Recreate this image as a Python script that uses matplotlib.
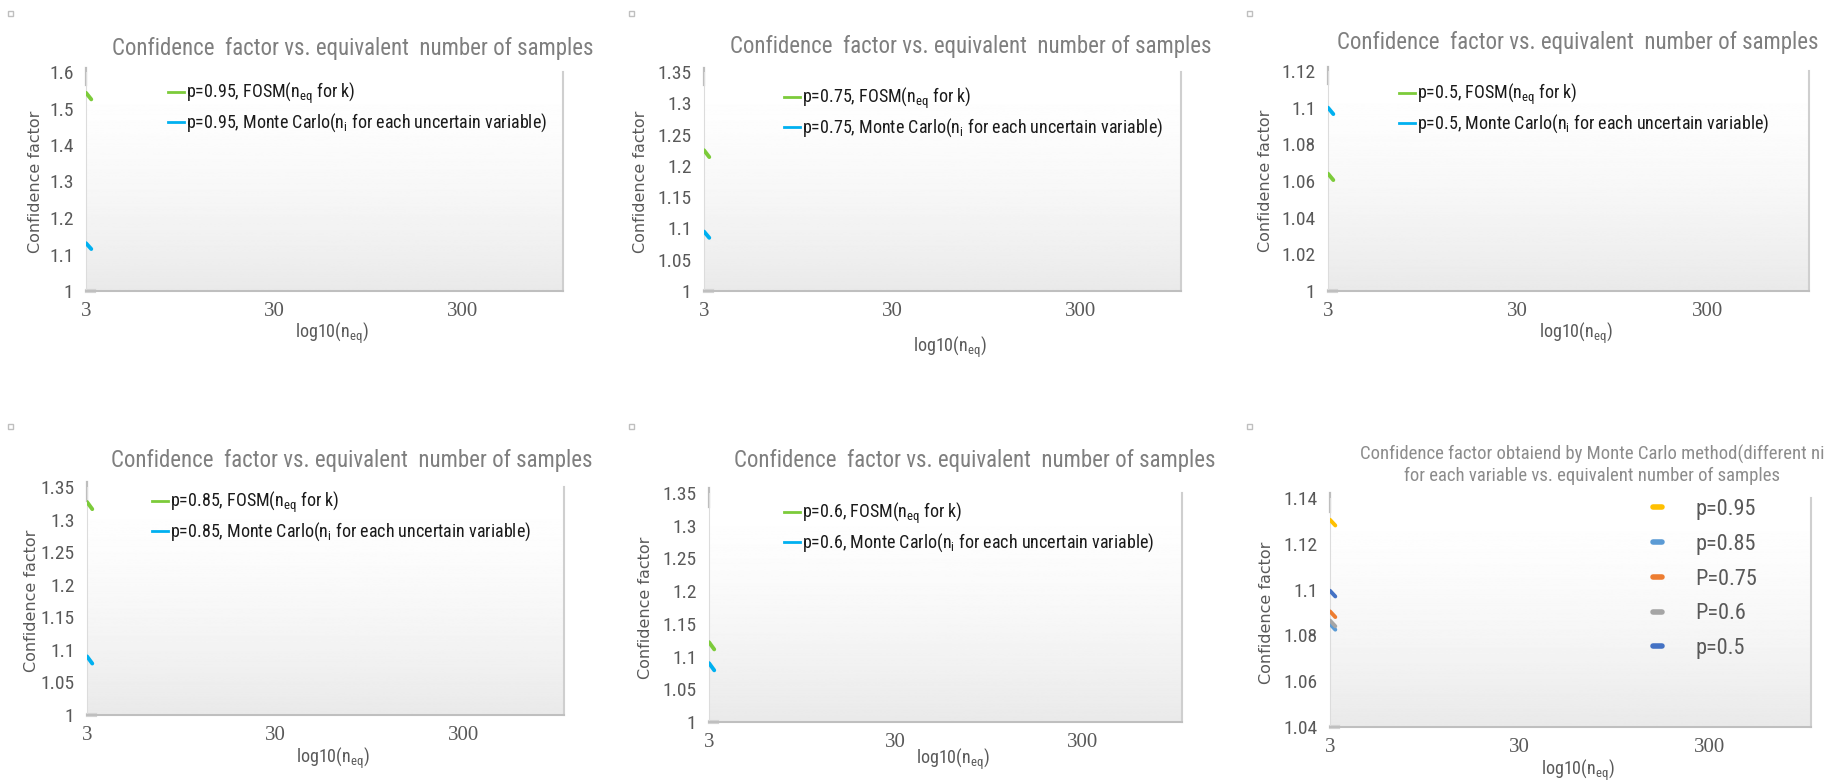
import numpy as np
import matplotlib
matplotlib.use('Agg')
import matplotlib.pyplot as plt
from matplotlib import font_manager
from matplotlib.lines import Line2D
from matplotlib.patches import Rectangle

# equivalent number of samples
n_eq = [3, 3.2]

# p=0.95
fosm_95 = [1.543, 1.525]
mc_95 = [1.131, 1.115]
# p=0.75
fosm_75 = [1.225, 1.214]
mc_75 = [1.095, 1.085]
# p=0.5
fosm_50 = [1.064, 1.0605]
mc_50 = [1.1, 1.0965]
# p=0.85
fosm_85 = [1.327, 1.316]
mc_85 = [1.09, 1.079]
# p=0.6
fosm_60 = [1.122, 1.111]
mc_60 = [1.09, 1.079]

# Monte Carlo summary (different ni for each variable)
mc_labels = ['p=0.95', 'p=0.85', 'P=0.75', 'P=0.6', 'p=0.5']
mc_all = [
    [1.1305, 1.128],
    [1.085, 1.0825],
    [1.0905, 1.088],
    [1.0865, 1.084],
    [1.0995, 1.097],
]
mc_colors = ['#FFC000', '#5B9BD5', '#ED7D31', '#A5A5A5', '#4472C4']

x_ticks = [3, 30, 300]
x_max = 1030

GREEN = '#7CCB3A'
BLUE = '#00B0F0'
W, H = 1831, 780

names = {f.name for f in font_manager.fontManager.ttflist}
NARROW = next((n for n in ['Liberation Sans Narrow', 'DejaVu Sans Condensed',
                           'Roboto Condensed', 'Liberation Sans'] if n in names), 'DejaVu Sans')
SERIF = 'Liberation Serif' if 'Liberation Serif' in names else 'DejaVu Serif'

fig = plt.figure(figsize=(W / 100, H / 100), dpi=100)
fig.patch.set_facecolor('white')


def fx(x):
    return x / W


def fy(y):
    return 1 - y / H


def make_axes(box, ylim, ystep, xlab_off, ylab_off):
    l, t, r, b = box
    ax = fig.add_axes([fx(l), fy(b), (r - l) / W, (b - t) / H])
    ax.set_xscale('log')
    # plot-area gradient, white at the top fading to light grey
    t_ = np.linspace(0, 1, 256)
    grad = (1 - 0.085 * (1 - t_) ** 1.6).reshape(-1, 1)
    ax.imshow(grad, extent=[0, 1, 0, 1], transform=ax.transAxes, origin='lower',
              cmap='gray', vmin=0, vmax=1, aspect='auto', zorder=0)
    ax.set_xlim(3, x_max)
    ax.set_ylim(*ylim)
    ax.set_xticks(x_ticks)
    ax.set_xticklabels([str(v) for v in x_ticks], fontfamily=SERIF, fontsize=15, color='#595959')
    ax.xaxis.set_minor_locator(matplotlib.ticker.NullLocator())
    yt = np.round(np.arange(ylim[0], ylim[1] + ystep / 2, ystep), 4)
    ax.set_yticks(yt)
    ax.set_yticklabels(['%g' % v for v in yt], fontfamily=NARROW, fontsize=14, color='#595959')
    ax.tick_params(length=0, axis='x', pad=8)
    ax.tick_params(length=0, axis='y', pad=9)
    ax.spines['top'].set_visible(False)
    ax.spines['left'].set_color('#dcdcdc')
    ax.spines['bottom'].set_color('#bfbfbf')
    ax.spines['bottom'].set_linewidth(1.5)
    ax.spines['right'].set_color('#cfcfcf')
    ax.spines['right'].set_linewidth(1.5)
    # short grey stubs at the axis corners
    ax.plot([0, 0], [0.94, 1.02], transform=ax.transAxes, color='#bdbdbd', lw=1.6, clip_on=False)
    ax.plot([0.002, 0.016], [0.0, 0.0], transform=ax.transAxes, color='#d4d4d4', lw=3, clip_on=False)
    ax.set_ylabel('Confidence factor', fontfamily='DejaVu Sans', fontsize=11.5, color='#595959')
    ax.yaxis.label.set_va('center')
    ax.yaxis.set_label_coords(-ylab_off / (r - l), 0.5)
    ax.set_xlabel('log10(n$_\\mathregular{eq}$)', fontfamily=NARROW, fontsize=13, color='#595959')
    ax.xaxis.label.set_va('center')
    ax.xaxis.set_label_coords(0.516, -xlab_off / (b - t))
    return ax


def pair_panel(box, ylim, ystep, xlab_off, ylab_off, p, fosm, mc, title_xy, leg_xy):
    ax = make_axes(box, ylim, ystep, xlab_off, ylab_off)
    ax.plot(n_eq, fosm, color=GREEN, lw=2.8, solid_capstyle='round', zorder=3)
    ax.plot(n_eq, mc, color=BLUE, lw=2.8, solid_capstyle='round', zorder=3)
    handles = [Line2D([], [], color=GREEN, lw=2), Line2D([], [], color=BLUE, lw=2)]
    labels = ['p=%s, FOSM(n$_\\mathregular{eq}$ for k)' % p,
              'p=%s, Monte Carlo(n$_\\mathregular{i}$ for each uncertain variable)' % p]
    ax.legend(handles, labels, loc='upper left', bbox_to_anchor=leg_xy, frameon=False,
              handlelength=0.9, handletextpad=0.1, borderpad=0, borderaxespad=0,
              labelspacing=0.3, prop={'family': NARROW, 'size': 13}, labelcolor='#1a1a1a')
    fig.text(fx(title_xy[0]), fy(title_xy[1]), 'Confidence  factor vs. equivalent  number of samples',
             ha='center', va='center', fontfamily=NARROW, fontsize=16.5, color='#7f7f7f')
    return ax


pair_panel((86, 72, 563, 291), (1, 1.6), 0.1, 42, 51, '0.95', fosm_95, mc_95, (353, 48), (0.172, 0.959))
pair_panel((704, 72, 1181, 291), (1, 1.35), 0.05, 56, 63, '0.75', fosm_75, mc_75, (971, 46), (0.168, 0.936))
pair_panel((1328, 71, 1809, 291), (1, 1.12), 0.02, 42, 62, '0.5', fosm_50, mc_50, (1578, 43), (0.148, 0.95))
pair_panel((87, 487, 564, 715), (1, 1.35), 0.05, 43, 55, '0.85', fosm_85, mc_85, (352, 461), (0.136, 0.987))
pair_panel((709, 493, 1182, 722), (1, 1.35), 0.05, 37, 63, '0.6', fosm_60, mc_60, (975, 461), (0.159, 0.965))

# Monte Carlo summary panel
ax6 = make_axes((1330, 498, 1811, 727), (1.04, 1.14), 0.02, 43, 63)
for vals, col in zip(mc_all, mc_colors):
    ax6.plot(n_eq, vals, color=col, lw=2.8, solid_capstyle='round', zorder=3)
h6 = [Line2D([], [], color=c, lw=4, solid_capstyle='round') for c in mc_colors]
ax6.legend(h6, mc_labels, loc='upper left', bbox_to_anchor=(0.672, 0.995), frameon=False,
           handlelength=0.4, handletextpad=1.5, borderpad=0, borderaxespad=0,
           labelspacing=0.62, prop={'family': NARROW, 'size': 16}, labelcolor='#595959')
fig.text(fx(1592), fy(465),
         'Confidence factor obtaiend by Monte Carlo method(different ni\n'
         'for each variable vs. equivalent number of samples',
         ha='center', va='center', fontfamily=NARROW, fontsize=13.5, color='#8c8c8c',
         linespacing=1.15)

# small chart handles at the top-left corner of each chart
for cx in (10, 631, 1250):
    for cy in (13, 426):
        fig.add_artist(Rectangle((fx(cx - 2.5), fy(cy + 2.5)), 5 / W, 5 / H,
                                 transform=fig.transFigure, facecolor='white',
                                 edgecolor='#bfbfbf', lw=1))

fig.savefig('out.png', dpi=100)
